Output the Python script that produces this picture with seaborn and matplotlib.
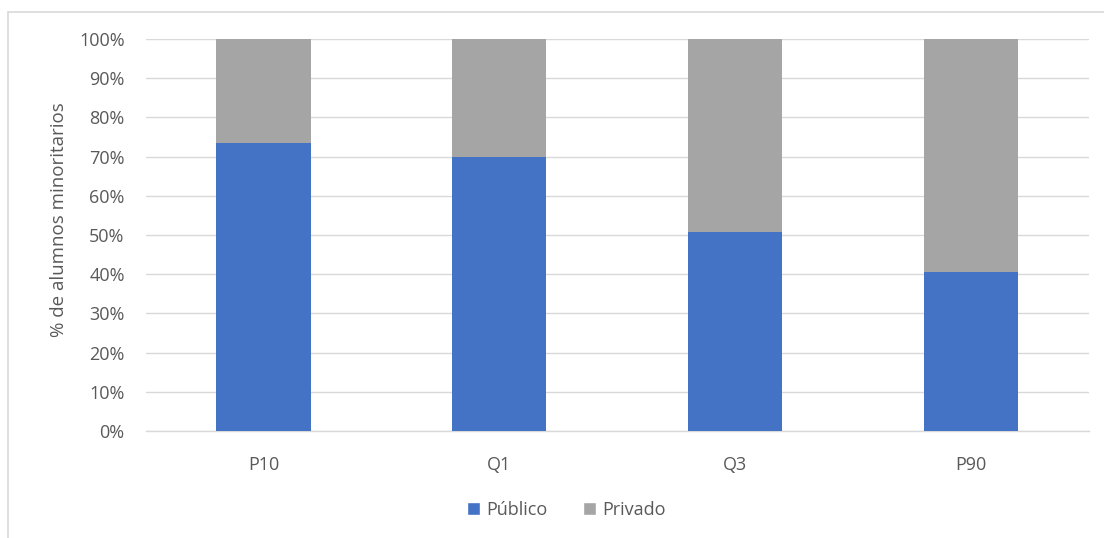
import matplotlib
matplotlib.use("Agg")
import matplotlib.pyplot as plt
from matplotlib.lines import Line2D
from matplotlib.patches import Patch
import seaborn as sns
import pandas as pd

# Percentile groups and share of minority students by school type
categories = ["P10", "Q1", "Q3", "P90"]
publico = [73.4, 69.8, 50.7, 40.5]
privado = [100 - v for v in publico]
yticks = [0, 10, 20, 30, 40, 50, 60, 70, 80, 90, 100]

BLUE = "#4472C4"
GRAY = "#A5A5A5"
TEXT = "#595959"

sns.set_theme(style="white")
plt.rcParams["font.family"] = ["Open Sans", "DejaVu Sans"]

df = pd.DataFrame({"grupo": categories, "Público": publico,
                   "Total": [p + q for p, q in zip(publico, privado)]})

fig = plt.figure(figsize=(11.04, 5.38), dpi=100)
ax = fig.add_axes([0.1318, 0.1989, 0.8546, 0.7286])

# Stacked 100% bars: full height in gray, público portion on top in blue
sns.barplot(data=df, x="grupo", y="Total", color=GRAY, width=0.4,
            saturation=1, ax=ax, zorder=3)
sns.barplot(data=df, x="grupo", y="Público", color=BLUE, width=0.4,
            saturation=1, ax=ax, zorder=4)
for p in ax.patches:
    p.set_linewidth(0)

ax.set_xlim(-0.5, len(categories) - 0.5)
ax.set_ylim(0, 100)
ax.set_yticks(yticks)
ax.set_yticklabels([f"{t}%" for t in yticks])
ax.yaxis.grid(True, color="#D9D9D9", linewidth=1)
ax.set_axisbelow(True)
for s in ["top", "right", "left"]:
    ax.spines[s].set_visible(False)
ax.spines["bottom"].set_color("#D9D9D9")
ax.spines["bottom"].set_linewidth(1)
ax.tick_params(axis="both", length=0, labelsize=13, colors=TEXT)
ax.tick_params(axis="y", pad=15)
ax.tick_params(axis="x", pad=18)
ax.set_xlabel("")
ax.set_ylabel("% de alumnos minoritarios", fontsize=13.5, color=TEXT)
ax.yaxis.set_label_coords(-0.082, 0.54)

handles = [Patch(facecolor=BLUE, label="Público"),
           Patch(facecolor=GRAY, label="Privado")]
fig.legend(handles=handles, loc="center", bbox_to_anchor=(0.513, 0.052),
           ncol=2, frameon=False, fontsize=13, handlelength=0.7,
           handleheight=0.7, handletextpad=0.35, columnspacing=2.0,
           labelcolor=TEXT)

# Chart area frame (top and left edges)
fig.add_artist(Line2D([8 / 1104, 1.0], [1 - 12 / 538, 1 - 12 / 538],
                      transform=fig.transFigure, color="#D9D9D9", lw=1.2))
fig.add_artist(Line2D([8 / 1104, 8 / 1104], [0.0, 1 - 12 / 538],
                      transform=fig.transFigure, color="#D9D9D9", lw=1.2))

fig.savefig("out.png", dpi=100, facecolor="white")
